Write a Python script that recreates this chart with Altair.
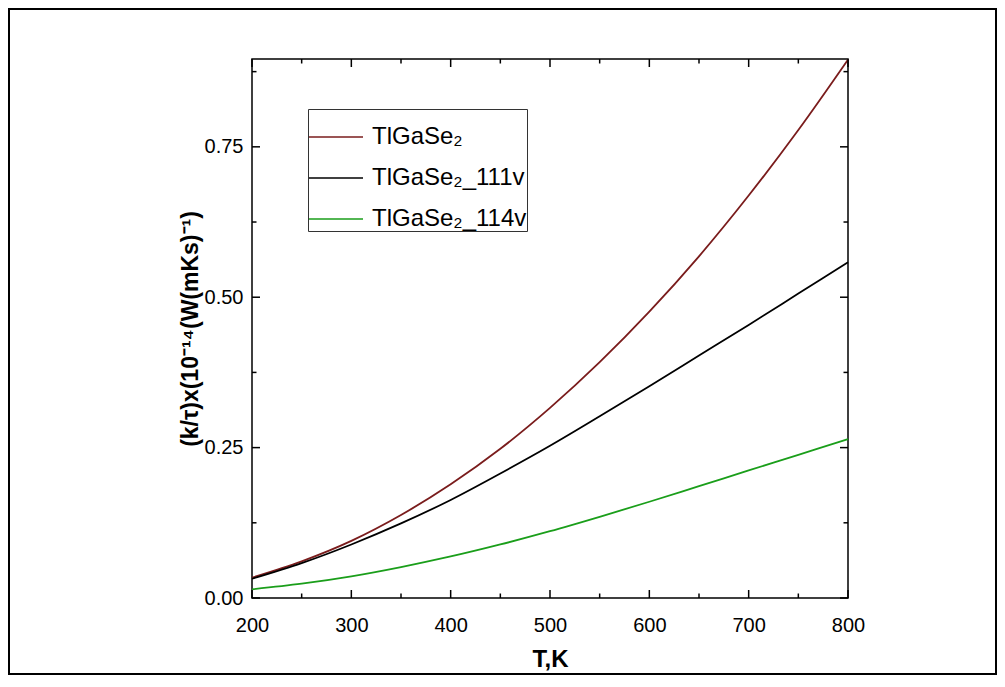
import altair as alt
import pandas as pd

# ---- data ----
T = [200, 250, 300, 350, 400, 450, 500, 550, 600, 650, 700, 750, 800]
red_vals = [0.034, 0.061, 0.095, 0.138, 0.189, 0.248, 0.316, 0.392, 0.476, 0.568, 0.669, 0.778, 0.895]
black_vals = [0.032, 0.058, 0.089, 0.124, 0.163, 0.207, 0.253, 0.302, 0.352, 0.403, 0.454, 0.506, 0.558]
green_vals = [0.0145, 0.0238, 0.036, 0.0514, 0.069, 0.089, 0.111, 0.135, 0.160, 0.186, 0.212, 0.238, 0.264]
names = ["TlGaSe₂", "TlGaSe₂_111v", "TlGaSe₂_114v"]
colors = ["#7a1c1c", "#000000", "#1a9e1a"]

x_major = [200, 300, 400, 500, 600, 700, 800]
x_minor = [250, 350, 450, 550, 650, 750]
y_major = [0.0, 0.25, 0.5, 0.75]
y_minor = [0.125, 0.375, 0.625, 0.875]

x_title = "T,K"
y_title = "(k/τ)x(10⁻¹⁴(W(mKs)⁻¹)"

W, H = 596, 539
PAD_L, PAD_T = 244, 51
SVG_W, SVG_H = 989, 667
FONT = "Liberation Sans"

rows = []
for name, vals in zip(names, [red_vals, black_vals, green_vals]):
    for t, v in zip(T, vals):
        rows.append({"T": t, "v": v, "series": name})
df = pd.DataFrame(rows)

xs = alt.Scale(domain=[200, 800], nice=False, zero=False)
ys = alt.Scale(domain=[0, 0.896], nice=False, zero=True)

lines = alt.Chart(df).mark_line(strokeWidth=1.8, interpolate="monotone").encode(
    x=alt.X("T:Q", scale=xs, title=x_title,
            axis=alt.Axis(values=x_major, format="d", labelPadding=17,
                          labelFlush=False, titlePadding=12)),
    y=alt.Y("v:Q", scale=ys, title=y_title,
            axis=alt.Axis(values=y_major, format=".2f", labelPadding=9,
                          labelFlush=False, titlePadding=2)),
    color=alt.Color("series:N", sort=names,
                    scale=alt.Scale(domain=names, range=colors),
                    legend=alt.Legend(title=None, orient="none", legendX=56, legendY=50,
                                      symbolType="stroke", symbolSize=2916,
                                      symbolStrokeWidth=1.5, labelFontSize=24,
                                      labelFont=FONT, labelColor="black",
                                      labelOffset=8, strokeColor="#333333",
                                      padding=0, rowPadding=1)),
)

def xticks(vals, length):
    d = pd.DataFrame({"T": vals})
    bottom = alt.Chart(d).mark_rule(color="black", strokeWidth=1.5).encode(
        x=alt.X("T:Q", scale=xs), y=alt.value(H), y2=alt.value(H - length))
    top = alt.Chart(d).mark_rule(color="black", strokeWidth=1.5).encode(
        x=alt.X("T:Q", scale=xs), y=alt.value(0), y2=alt.value(length))
    return [bottom, top]

def yticks(vals, length):
    d = pd.DataFrame({"v": vals})
    left = alt.Chart(d).mark_rule(color="black", strokeWidth=1.5).encode(
        y=alt.Y("v:Q", scale=ys), x=alt.value(0), x2=alt.value(length))
    right = alt.Chart(d).mark_rule(color="black", strokeWidth=1.5).encode(
        y=alt.Y("v:Q", scale=ys), x=alt.value(W), x2=alt.value(W - length))
    return [left, right]

frame = alt.Chart(pd.DataFrame({"a": [0]})).mark_rect(
    fillOpacity=0, stroke="black", strokeWidth=2).encode(
    x=alt.value(1 - PAD_L), x2=alt.value(SVG_W - PAD_L - 1),
    y=alt.value(1 - PAD_T), y2=alt.value(SVG_H - PAD_T - 1))

layers = [frame, lines] + xticks(x_major, 8) + xticks(x_minor, 4.5) + yticks(y_major, 8) + yticks(y_minor, 4.5)

chart = alt.layer(*layers).properties(
    width=W, height=H,
    autosize=alt.AutoSizeParams(type="none"),
    padding={"left": PAD_L, "top": PAD_T, "right": SVG_W - PAD_L - W, "bottom": SVG_H - PAD_T - H},
).configure_view(stroke="black", strokeWidth=1.5).configure_axis(
    domain=False, ticks=False, grid=False,
    labelFont=FONT, labelFontSize=20, labelColor="black",
    titleFont=FONT, titleFontWeight="bold", titleColor="black",
).configure_axisX(titleFontSize=24).configure_axisY(titleFontSize=23)

chart.save("out.html", embed_options={"renderer": "svg", "actions": False})
